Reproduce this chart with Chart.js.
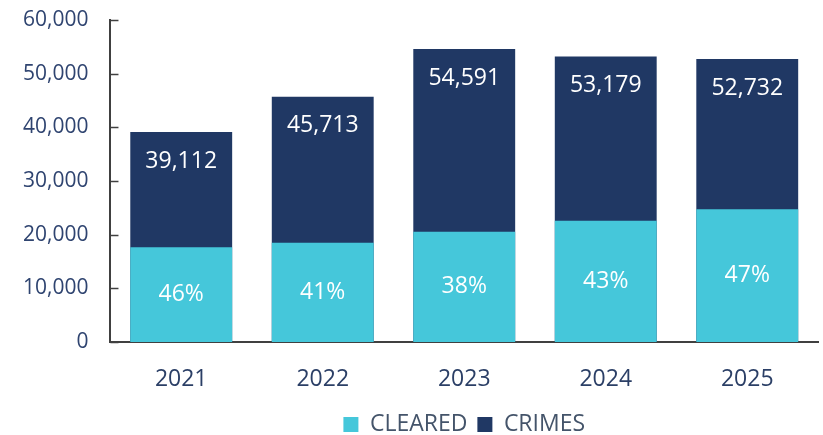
<!DOCTYPE html>
<html>
<head>
<meta charset="utf-8">
<script src="https://cdn.jsdelivr.net/npm/chart.js@4.4.1/dist/chart.umd.min.js"></script>
<style>
  html, body { margin: 0; padding: 0; background: #fff; }
  #wrap { width: 823px; height: 435px; }
</style>
</head>
<body>
<div id="wrap"><canvas id="clearanceChart"></canvas></div>
<script>
const years = ['2021', '2022', '2023', '2024', '2025'];
const crimes = [39112, 45713, 54591, 53179, 52732];
const cleared = [17650, 18500, 20550, 22600, 24720];
const clearedPct = ['46%', '41%', '38%', '43%', '47%'];
const yTicks = [0, 10000, 20000, 30000, 40000, 50000, 60000];

const FONT = "'Open Sans', sans-serif";

// white value labels inside the bars + short tick marks on the inside of the y axis
const barLabels = {
    id: 'barLabels',
    afterDatasetsDraw(chart) {
        const c = chart.ctx;
        c.save();
        c.fillStyle = '#ffffff';
        c.font = '23px ' + FONT;
        c.textAlign = 'center';
        c.textBaseline = 'middle';
        chart.getDatasetMeta(1).data.forEach((bar, i) => {
            c.fillText(crimes[i].toLocaleString('en-US'), bar.x, bar.y + 29);
        });
        chart.getDatasetMeta(0).data.forEach((bar, i) => {
            c.fillText(clearedPct[i], bar.x, (bar.y + bar.base) / 2);
        });
        c.restore();
    },
    afterDraw(chart) {
        const y = chart.scales.y;
        const c = chart.ctx;
        c.save();
        c.strokeStyle = '#404040';
        c.lineWidth = 1.5;
        y.ticks.forEach((t, i) => {
            const py = Math.round(y.getPixelForTick(i)) + 0.5;
            c.beginPath();
            c.moveTo(y.right, py);
            c.lineTo(y.right + 8, py);
            c.stroke();
        });
        c.restore();
    }
};

const ctx = document.getElementById('clearanceChart').getContext('2d');
const clearanceChart = new Chart(ctx, {
    type: 'bar',
    data: {
        labels: years,
        datasets: [{
            label: 'CLEARED',
            data: cleared,
            backgroundColor: '#45c7da',
            grouped: false,
            categoryPercentage: 0.72,
            barPercentage: 1
        }, {
            label: 'CRIMES',
            data: crimes,
            backgroundColor: '#203864',
            grouped: false,
            categoryPercentage: 0.72,
            barPercentage: 1
        }]
    },
    options: {
        responsive: true,
        maintainAspectRatio: false,
        animation: false,
        layout: {
            padding: { left: 1, right: 5, top: 0, bottom: 0 }
        },
        scales: {
            x: {
                grid: { display: false, drawTicks: false },
                border: { display: true, color: '#404040', width: 2 },
                ticks: {
                    padding: 24,
                    color: '#2b3f66',
                    font: { family: FONT, size: 23 }
                },
                afterFit: (scale) => { scale.height = 61; }
            },
            y: {
                min: 0,
                max: 60000,
                afterBuildTicks: (scale) => {
                    scale.ticks = yTicks.map(v => ({ value: v }));
                },
                afterFit: (scale) => {
                    scale.paddingTop = 20;
                    scale.paddingBottom = 13;
                },
                grid: { display: false, drawTicks: false },
                border: { display: true, color: '#404040', width: 2 },
                ticks: {
                    padding: 22,
                    color: '#2f4470',
                    font: { family: FONT, size: 21 },
                    callback: (v) => v.toLocaleString('en-US')
                }
            }
        },
        plugins: {
            legend: {
                display: true,
                position: 'bottom',
                fullSize: false,
                maxHeight: 32,
                labels: {
                    color: '#44546a',
                    font: { family: FONT, size: 23 },
                    boxWidth: 15,
                    boxHeight: 15,
                    padding: 10
                }
            },
            tooltip: { enabled: false }
        }
    },
    plugins: [barLabels]
});
</script>
</body>
</html>
